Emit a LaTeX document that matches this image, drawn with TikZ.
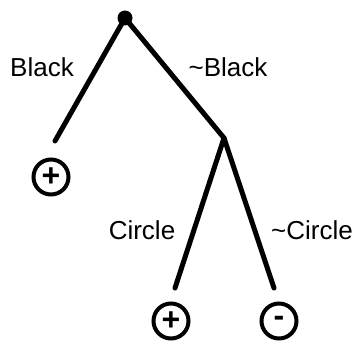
\documentclass[tikz,border=0pt]{standalone}
\usepackage{fontspec}
\setmainfont{Liberation Sans}
\begin{document}
\begin{tikzpicture}[x=1pt,y=-1pt,
    branch/.style={line width=5pt,line cap=round},
    leaf/.style={circle,draw,line width=4pt,minimum size=35pt,inner sep=0pt,
                 font=\fontsize{32}{32}\selectfont\bfseries},
    lbl/.style={font=\fontsize{26}{30}\selectfont}]
    \useasboundingbox (0,0) rectangle (353,342);
    % root and the split under ~Black
    \fill (125,18) circle (7.5);
    \coordinate (root) at (125,18);
    \coordinate (split) at (224,138);
    \coordinate (endb) at (55,141);
    \coordinate (endc) at (175,288);
    \coordinate (endnc) at (274,288);
    % leaves
    \node[leaf] (posa) at (51,177) {+};
    \node[leaf] (posb) at (171,321) {+};
    \node[leaf] (neg) at (279,321) {-};
    \draw[branch] (root) -- (endb);
    \draw[branch] (root) -- (split);
    \draw[branch] (split) -- (endc);
    \draw[branch] (split) -- (endnc);
    % branch labels
    \node[lbl] (black) at (42,67) {Black};
    \node[lbl] (nblack) at (228,67) {\textasciitilde Black};
    \node[lbl] (circ) at (142,230) {Circle};
    \node[lbl] (ncirc) at (312,230) {\textasciitilde Circle};
\end{tikzpicture}
\end{document}
